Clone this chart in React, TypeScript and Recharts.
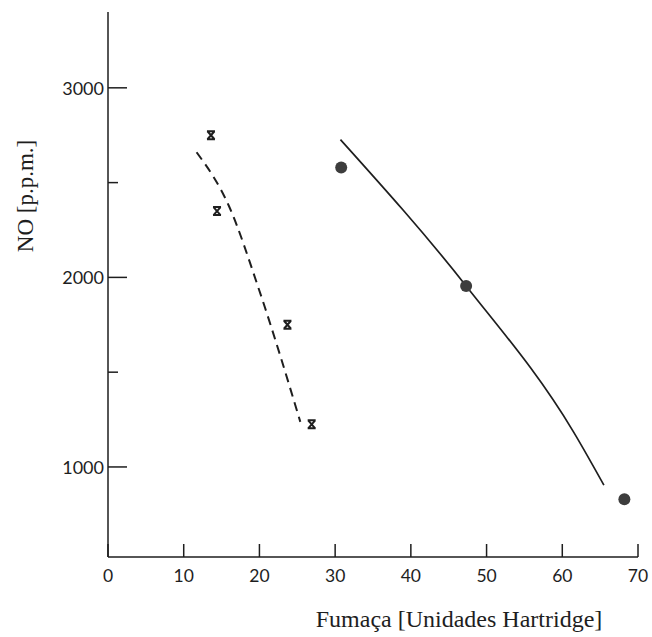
import { ComposedChart, XAxis, YAxis, Line, Scatter } from 'recharts';

// values
const xTicks = [0, 10, 20, 30, 40, 50, 60, 70];
const yTicks = [1000, 1500, 2000, 2500, 3000];
const yLabeled = [1000, 2000, 3000];

const crossSmoke = [13.6, 14.4, 23.7, 26.9];
const crossNO = [2750, 2350, 1750, 1225];

const dotSmoke = [30.8, 47.3, 68.2];
const dotNO = [2580, 1955, 830];

const dashSmoke = [11.7, 16.0, 19.95, 25.4];
const dashNO = [2660, 2374, 1935, 1238];

const solidSmoke = [30.7, 47.3, 61.5, 65.5];
const solidNO = [2727, 1955, 1184, 904];

const toPoints = (xs: number[], ys: number[]) => xs.map((x, i) => ({ x, y: ys[i] }));

const crossData = toPoints(crossSmoke, crossNO);
const dotData = toPoints(dotSmoke, dotNO);
const dashData = toPoints(dashSmoke, dashNO);
const solidData = toPoints(solidSmoke, solidNO);

const INK = '#1e1e1e';
const TICK_FONT = 'Lato, "Open Sans", sans-serif';
const LABEL_FONT = '"Liberation Serif", "DejaVu Serif", serif';

function XTick(props: any) {
  const { x, y, payload } = props;
  return (
    <g>
      <line x1={x} x2={x} y1={y} y2={y - 13} stroke={INK} strokeWidth={1.5} />
      <text x={x} y={y + 18} textAnchor="middle" dominantBaseline="central" fontFamily={TICK_FONT} fontSize={17.5} fill={INK}>
        {payload.value}
      </text>
    </g>
  );
}

function YTick(props: any) {
  const { x, y, payload } = props;
  const major = yLabeled.includes(payload.value);
  return (
    <g>
      <line x1={x} x2={x + (major ? 19 : 10)} y1={y} y2={y} stroke={INK} strokeWidth={1.5} />
      {major && (
        <text x={x - 4} y={y} textAnchor="end" dominantBaseline="central" fontFamily={TICK_FONT} fontSize={18} fill={INK}>
          {payload.value}
        </text>
      )}
    </g>
  );
}

// little hourglass-like cross used in the original
function CrossMark(props: any) {
  const { cx, cy } = props;
  return (
    <path
      d={`M${cx - 4},${cy - 4}L${cx + 4},${cy - 4}M${cx - 4},${cy + 4}L${cx + 4},${cy + 4}M${cx - 3.5},${cy - 4}L${cx + 3.5},${cy + 4}M${cx + 3.5},${cy - 4}L${cx - 3.5},${cy + 4}`}
      stroke={INK}
      strokeWidth={2}
      fill="none"
    />
  );
}

function DotMark(props: any) {
  const { cx, cy } = props;
  return <circle cx={cx} cy={cy} r={6} fill="#3d3d3d" />;
}

export default function App() {
  return (
    <div style={{ position: 'absolute', left: 0, top: 0, width: 652, height: 637, background: '#fff' }}>
      <ComposedChart width={652} height={637} margin={{ top: 12, right: 14, bottom: 0, left: 0 }}>
        <XAxis
          type="number"
          dataKey="x"
          domain={[0, 70]}
          ticks={xTicks}
          interval={0}
          allowDataOverflow
          height={80}
          tickSize={0}
          tickMargin={0}
          tickLine={false}
          tick={<XTick />}
          axisLine={{ stroke: INK, strokeWidth: 1.5 }}
          label={{
            content: (p: any) => {
              const vb = p.viewBox;
              return (
                <text
                  x={vb.x + vb.width / 2 + 86}
                  y={vb.y + 70}
                  textAnchor="middle"
                  fontFamily={LABEL_FONT}
                  fontSize={24}
                  fill={INK}
                >
                  Fumaça [Unidades Hartridge]
                </text>
              );
            }
          }}
        />
        <YAxis
          type="number"
          dataKey="y"
          domain={[525, 3400]}
          ticks={yTicks}
          interval={0}
          allowDataOverflow
          width={108}
          tickSize={0}
          tickMargin={0}
          tickLine={false}
          tick={<YTick />}
          axisLine={{ stroke: INK, strokeWidth: 1.5 }}
          label={{
            content: () => (
              <text
                transform="translate(33,196) rotate(-90)"
                textAnchor="middle"
                fontFamily={LABEL_FONT}
                fontSize={23}
                fill={INK}
              >
                NO [p.p.m.]
              </text>
            )
          }}
        />
        <Line
          data={dashData}
          dataKey="y"
          type="monotone"
          stroke={INK}
          strokeWidth={2}
          strokeDasharray="9 6"
          dot={false}
          activeDot={false}
          isAnimationActive={false}
        />
        <Line
          data={solidData}
          dataKey="y"
          type="monotone"
          stroke={INK}
          strokeWidth={1.7}
          dot={false}
          activeDot={false}
          isAnimationActive={false}
        />
        <Scatter data={crossData} dataKey="y" shape={<CrossMark />} isAnimationActive={false} />
        <Scatter data={dotData} dataKey="y" shape={<DotMark />} isAnimationActive={false} />
      </ComposedChart>
    </div>
  );
}
